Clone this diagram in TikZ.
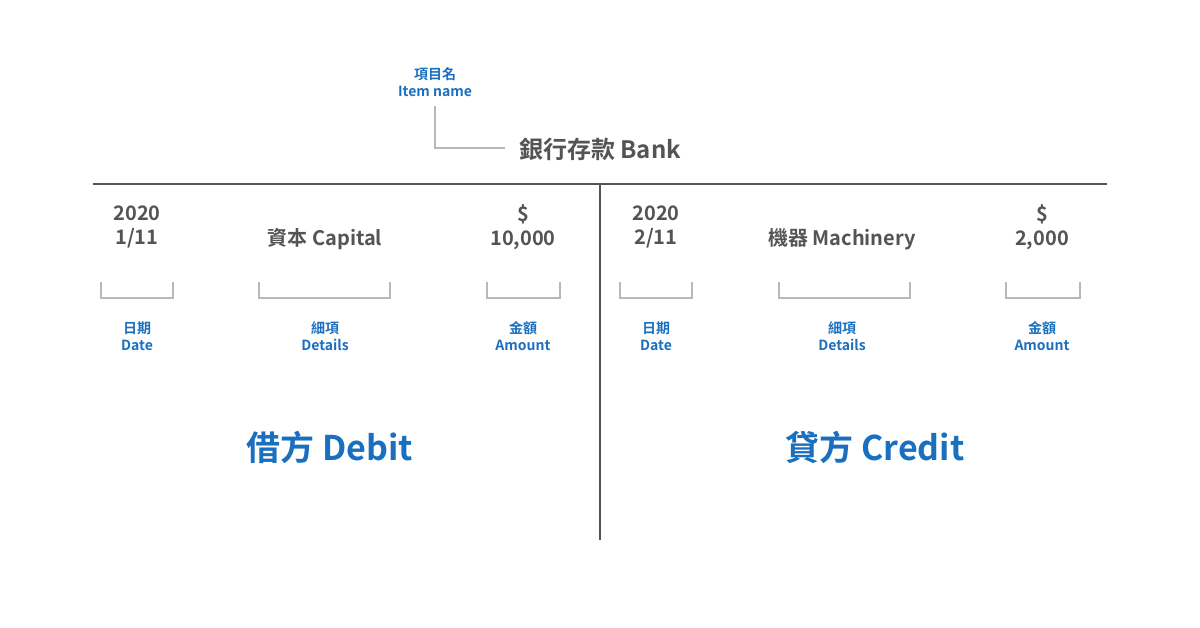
\documentclass[tikz,border=0pt]{standalone}
\usepackage{fontspec}
\setmainfont{Noto Sans CJK TC}[BoldFont={* Bold}]
\begin{document}
\begin{tikzpicture}[x=1pt,y=-1pt,
  dk/.style={text=black!67,font=\bfseries\fontsize{20}{24}\selectfont,align=center},
  lb/.style={text=blu,font=\bfseries\fontsize{14}{17}\selectfont,align=center},
  big/.style={text=blu,font=\bfseries\fontsize{34}{38}\selectfont},
  br/.style={draw=black!28,line width=2.5pt}]
\definecolor{blu}{HTML}{1A6FBF}
\useasboundingbox (0,0) rectangle (1200,628);
\coordinate (hl) at (93,184); \coordinate (hr) at (1107,184);
\coordinate (vt) at (600,184); \coordinate (vb) at (600,540);
\draw[black!67,line width=2.5pt] (hl)--(hr);
\draw[black!67,line width=2.5pt] (vt)--(vb);
\node[dk,font=\bfseries\fontsize{24}{28}\selectfont] (title) at (600,149) {銀行存款 Bank};
\node[lb] (item) at (435,82) {項目名\\Item name};
\coordinate (c1) at (435,106); \coordinate (c2) at (505,148);
\draw[br,line cap=butt] (c1) |- (c2);
\node[dk] (d1) at (137,227) {2020\\1/11};
\node[dk] (d2) at (656,227) {2020\\2/11};
\node[dk] (a1) at (523,227) {\$\\10,000};
\node[dk] (a2) at (1042,227) {\$\\2,000};
\node[dk] (t1) at (325,239) {資本 Capital};
\node[dk] (t2) at (842,239) {機器 Machinery};
\foreach \l/\r in {101/173,259/390,487/560,620/692,779/910,1006/1080}{
  \draw[br] (\l,282) -- (\l,298) -- (\r,298) -- (\r,282);}
\node[lb] (l1) at (137,336) {日期\\Date};
\node[lb] (l2) at (325,336) {細項\\Details};
\node[lb] (l3) at (523,336) {金額\\Amount};
\node[lb] (l4) at (656,336) {日期\\Date};
\node[lb] (l5) at (842,336) {細項\\Details};
\node[lb] (l6) at (1042,336) {金額\\Amount};
\node[big] (deb) at (330,447) {借方 Debit};
\node[big] (cre) at (875,447) {貸方 Credit};
\end{tikzpicture}
\end{document}
